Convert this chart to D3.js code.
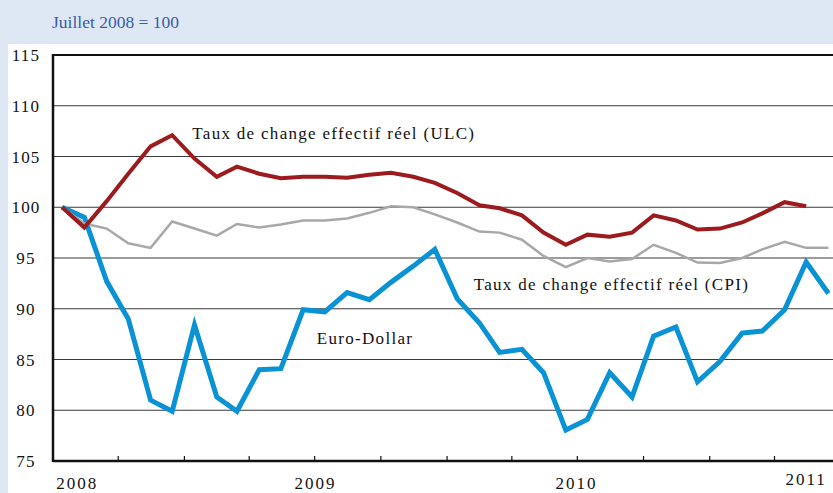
<!DOCTYPE html>
<html>
<head>
<meta charset="utf-8">
<script src="https://cdn.jsdelivr.net/npm/d3@7"></script>
<style>
  body { margin: 0; padding: 0; background: #dde8f4; }
  svg { display: block; }
  .tick-label { font-family: "Liberation Serif", "DejaVu Serif", serif; font-size: 17px; fill: #111; letter-spacing: 1.2px; }
  .year-label { font-family: "Liberation Serif", "DejaVu Serif", serif; font-size: 17px; fill: #111; letter-spacing: 2px; }
  .series-label { font-family: "Liberation Serif", "DejaVu Serif", serif; font-size: 17px; fill: #111; letter-spacing: 1.3px; }
</style>
</head>
<body>
<div class="chart"></div>
<script>
// Monthly index, July 2008 = 100

var ulcValues = [100.0, 98.0, 100.6, 103.3, 106.0, 107.1,
  104.8, 103.0, 104.0, 103.3, 102.85, 103.0, 103.0, 102.9, 103.2, 103.4, 103.0, 102.4,
  101.4, 100.2, 99.9, 99.2, 97.5, 96.3, 97.3, 97.1, 97.5, 99.2, 98.7, 97.8,
  97.9, 98.5, 99.4, 100.5, 100.1];

var cpiValues = [100.0, 98.4, 97.9, 96.45, 96.0, 98.6,
  97.9, 97.2, 98.35, 98.0, 98.3, 98.7, 98.7, 98.9, 99.45, 100.1, 100.0, 99.3,
  98.5, 97.6, 97.5, 96.8, 95.2, 94.1, 95.0, 94.65, 94.9, 96.3, 95.5, 94.55,
  94.5, 95.0, 95.85, 96.6, 96.0, 96.0];

var euroDollarValues = [100.0, 99.0, 92.7, 89.0, 81.0, 79.9,
  88.4, 81.3, 79.9, 84.0, 84.1, 89.9, 89.7, 91.6, 90.9, 92.6, 94.2, 95.85,
  91.0, 88.6, 85.7, 86.0, 83.7, 78.05, 79.1, 83.7, 81.3, 87.3, 88.2, 82.8,
  84.8, 87.6, 87.8, 89.9, 94.6, 91.5];

var yTicks = [75, 80, 85, 90, 95, 100, 105, 110, 115];

var yearLabels = ["2008", "2009", "2010", "2011"];
var yearLabelDates = ["2008-08-05", "2009-07-02", "2010-06-30", "2011-05-15"];

var seriesLabels = [
  { text: "Taux de change effectif réel (ULC)", date: "2009-01-12", value: 106.7 },
  { text: "Taux de change effectif réel (CPI)", date: "2010-02-07", value: 91.85 },
  { text: "Euro-Dollar", date: "2009-07-04", value: 86.5 }
];

var svgWidth = 833;
var svgHeight = 493;

var margin = { top: 55, left: 53 };
var plotBottom = 461;

var parseDate = d3.timeParse("%Y-%m-%d");
var months = d3.timeMonth.range(parseDate("2008-07-01"), parseDate("2011-07-01"))
  .map(d => d3.timeDay.offset(d, 14));

var svg = d3.select(".chart")
  .append("svg")
  .attr("width", svgWidth)
  .attr("height", svgHeight);

// light blue page + white panel
svg.append("rect")
  .attr("width", svgWidth)
  .attr("height", svgHeight)
  .attr("fill", "#dde8f4");

svg.append("rect")
  .attr("x", 8)
  .attr("y", 44)
  .attr("width", svgWidth - 8)
  .attr("height", svgHeight - 44)
  .attr("fill", "#ffffff");

svg.append("text")
  .attr("x", 52)
  .attr("y", 28)
  .attr("font-family", "Liberation Serif, DejaVu Serif, serif")
  .attr("font-size", "17.5px")
  .attr("fill", "#3b5ba6")
  .text("Juillet 2008 = 100");

var xScale = d3.scaleTime()
  .domain([parseDate("2008-07-01"), parseDate("2011-07-01")])
  .range([margin.left - 1, 840]);

var yScale = d3.scaleLinear()
  .domain([75, 115])
  .range([plotBottom, margin.top]);

// horizontal gridlines
svg.append("g")
  .selectAll("line")
  .data(yTicks.filter(d => d > 75 && d < 115))
  .enter()
  .append("line")
  .attr("x1", margin.left)
  .attr("x2", svgWidth)
  .attr("y1", d => yScale(d))
  .attr("y2", d => yScale(d))
  .attr("stroke", "#3a3a3a")
  .attr("stroke-width", 1.2);

// top border
svg.append("line")
  .attr("x1", margin.left)
  .attr("x2", svgWidth)
  .attr("y1", yScale(115))
  .attr("y2", yScale(115))
  .attr("stroke", "#111")
  .attr("stroke-width", 2);

// y tick labels
svg.append("g")
  .selectAll("text")
  .data(yTicks)
  .enter()
  .append("text")
  .classed("tick-label", true)
  .attr("x", 26)
  .attr("y", d => yScale(d))
  .attr("dy", "0.36em")
  .attr("text-anchor", "middle")
  .text(d => d);

// quarter ticks on the x axis
var quarterTicks = d3.timeMonth.every(3).range(parseDate("2008-08-01"), parseDate("2011-07-01"));

svg.append("g")
  .selectAll("line")
  .data(quarterTicks)
  .enter()
  .append("line")
  .attr("x1", d => xScale(d))
  .attr("x2", d => xScale(d))
  .attr("y1", plotBottom)
  .attr("y2", plotBottom - 5)
  .attr("stroke", "#111")
  .attr("stroke-width", 1.2);

svg.append("g")
  .selectAll("text")
  .data(yearLabels)
  .enter()
  .append("text")
  .classed("year-label", true)
  .attr("x", (d, i) => xScale(parseDate(yearLabelDates[i])))
  .attr("y", (d, i) => i == 3 ? 485 : 489)
  .attr("text-anchor", "middle")
  .text(d => d);

// lines
var line = d3.line()
  .x((d, i) => xScale(months[i]))
  .y(d => yScale(d));

svg.append("path")
  .datum(euroDollarValues)
  .attr("fill", "none")
  .attr("stroke", "#0a93d4")
  .attr("stroke-width", 5)
  .attr("d", line);

svg.append("path")
  .datum(cpiValues)
  .attr("fill", "none")
  .attr("stroke", "#a8a8a8")
  .attr("stroke-width", 2.5)
  .attr("d", line);

svg.append("path")
  .datum(ulcValues)
  .attr("fill", "none")
  .attr("stroke", "#9b1b1f")
  .attr("stroke-width", 4)
  .attr("d", line);

// axes
svg.append("line")
  .attr("x1", margin.left)
  .attr("x2", margin.left)
  .attr("y1", margin.top - 1)
  .attr("y2", plotBottom + 1)
  .attr("stroke", "#111")
  .attr("stroke-width", 2.5);

svg.append("line")
  .attr("x1", margin.left)
  .attr("x2", svgWidth)
  .attr("y1", plotBottom)
  .attr("y2", plotBottom)
  .attr("stroke", "#111")
  .attr("stroke-width", 2.5);

// series labels
svg.append("g")
  .selectAll("text")
  .data(seriesLabels)
  .enter()
  .append("text")
  .classed("series-label", true)
  .attr("x", d => xScale(parseDate(d.date)))
  .attr("y", d => yScale(d.value))
  .text(d => d.text);
</script>
</body>
</html>
